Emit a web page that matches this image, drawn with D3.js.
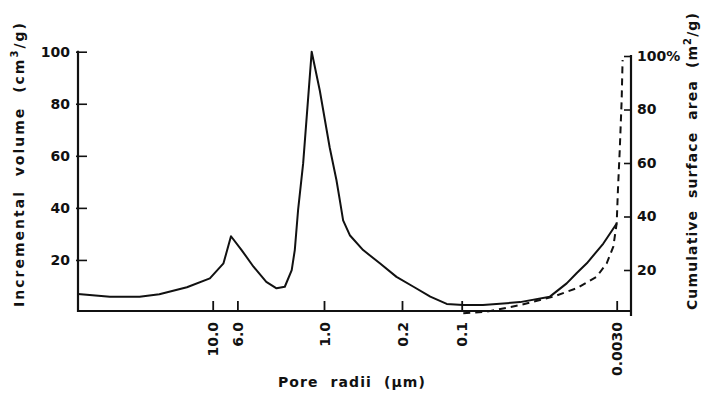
<!DOCTYPE html>
<html>
<head>
<meta charset="utf-8">
<script src="https://cdn.jsdelivr.net/npm/d3@7/dist/d3.min.js"></script>
<style>
  html, body { margin: 0; padding: 0; background: #fff; }
  svg { display: block; }
  text { font-family: "DejaVu Sans", sans-serif; font-weight: bold; fill: #111; }
</style>
</head>
<body>
<svg id="chart" width="712" height="394"></svg>
<script>
// ---- data ----
const poreRadii = [160, 83, 45, 30, 17, 10.6, 8.0, 6.85, 5.5, 4.3,
  3.3, 2.67, 2.25, 1.95, 1.83, 1.71, 1.54, 1.29, 1.09, 0.89,
  0.773, 0.721, 0.674, 0.587, 0.446, 0.316, 0.224, 0.175, 0.144, 0.119,
  0.0965, 0.0618, 0.0267, 0.0136, 0.0093, 0.0074, 0.0059, 0.00406, 0.0030];
const incrementalVolume = [6.9, 5.9, 5.9, 6.8, 9.5, 12.9, 18.7, 29.1, 23.8, 17.4,
  11.6, 9.1, 9.7, 16.1, 23.8, 39.1, 57, 100, 85, 63.3,
  50.6, 42.9, 35.2, 29.5, 23.8, 18.7, 13.5, 9.7, 5.9, 3.1,
  2.7, 2.7, 3.8, 5.9, 11, 15, 18.7, 26.3, 34];

const areaRadii = [0.0965, 0.0568, 0.0267, 0.0127, 0.0074, 0.00472, 0.00376, 0.00324, 0.0030, 0.00291, 0.00278, 0.00265, 0.00259];
const cumulativeArea = [3.8, 4.4, 6.9, 10, 13.2, 17.5, 22.5, 28.7, 37.5, 49.8, 64.9, 83.6, 98.5];

const xTickValues = [10, 6, 1, 0.2, 0.1, 0.003];
const xTickLabels = ["10.0", "6.0", "1.0", "0.2", "0.1", "0.0030"];
const leftTicks = [20, 40, 60, 80, 100];
const rightTicks = [20, 40, 60, 80, 100];
const rightTickLabels = ["20", "40", "60", "80", "100%"];

// ---- layout ----
const svg = d3.select("#chart");
const x0 = 78, x1 = 631, yBase = 311;

// piecewise log scale (the original axis is not uniformly logarithmic)
const x = d3.scaleLog()
  .domain([160, 10, 1, 0.2, 0.1, 0.003, 0.0021])
  .range([x0, 212.7, 324, 402, 461.7, 616.7, x1]);
const yL = d3.scaleLinear().domain([0, 100]).range([312, 51.7]);
const yR = d3.scaleLinear().domain([0, 100]).range([323.5, 56]);

// frame lines
svg.append("line").attr("x1", x0).attr("x2", x1).attr("y1", yBase).attr("y2", yBase)
  .attr("stroke", "#111").attr("stroke-width", 2.2);
svg.append("line").attr("x1", x0).attr("x2", x0).attr("y1", yBase + 1).attr("y2", yL(100) - 1)
  .attr("stroke", "#111").attr("stroke-width", 2.2);
svg.append("line").attr("x1", x1).attr("x2", x1).attr("y1", yBase + 5).attr("y2", yR(100) - 1)
  .attr("stroke", "#111").attr("stroke-width", 2.2);

// bottom axis
const gx = svg.append("g").attr("transform", `translate(0,${yBase})`)
  .call(d3.axisBottom(x).tickValues(xTickValues).tickFormat((d, i) => xTickLabels[i])
    .tickSizeInner(-10).tickSizeOuter(0));
gx.select(".domain").remove();
gx.selectAll(".tick line").attr("stroke", "#111").attr("stroke-width", 1.8);
gx.selectAll(".tick text")
  .attr("transform", "rotate(-90)")
  .attr("x", -11).attr("y", 0).attr("dy", "0.36em")
  .attr("text-anchor", "end")
  .style("font-size", "14px").style("font-family", "DejaVu Sans").style("font-weight", "bold");

// left axis
const gl = svg.append("g").attr("transform", `translate(${x0},0)`)
  .call(d3.axisLeft(yL).tickValues(leftTicks).tickSizeInner(-9).tickSizeOuter(0).tickPadding(8));
gl.select(".domain").remove();
gl.selectAll(".tick line").attr("stroke", "#111").attr("stroke-width", 1.6).attr("x1", -2);
gl.selectAll(".tick text").style("font-size", "14px").style("font-family", "DejaVu Sans").style("font-weight", "bold");

// right axis
const gr = svg.append("g").attr("transform", `translate(${x1},0)`)
  .call(d3.axisRight(yR).tickValues(rightTicks).tickFormat((d, i) => rightTickLabels[i])
    .tickSizeInner(-7).tickSizeOuter(0).tickPadding(6));
gr.select(".domain").remove();
gr.selectAll(".tick line").attr("stroke", "#111").attr("stroke-width", 1.6);
gr.selectAll(".tick text").style("font-size", "14px").style("font-family", "DejaVu Sans").style("font-weight", "bold");

// curves
const solid = poreRadii.map((r, i) => [r, incrementalVolume[i]]);
const dashed = areaRadii.map((r, i) => [r, cumulativeArea[i]]);

svg.append("path").datum(solid)
  .attr("fill", "none").attr("stroke", "#111").attr("stroke-width", 2)
  .attr("stroke-linejoin", "round")
  .attr("d", d3.line().x(d => x(d[0])).y(d => yL(d[1])).curve(d3.curveLinear));

svg.append("path").datum(dashed)
  .attr("fill", "none").attr("stroke", "#111").attr("stroke-width", 2)
  .attr("stroke-dasharray", "7,5")
  .attr("d", d3.line().x(d => x(d[0])).y(d => yR(d[1])).curve(d3.curveLinear));

// stretch a title to a target length via letter-spacing
function fit(sel, target) {
  const node = sel.node();
  const len = node.getComputedTextLength();
  const n = node.textContent.length;
  sel.style("letter-spacing", ((target - len) / n) + "px");
}

// axis titles
const lt = svg.append("text")
  .attr("transform", `translate(24,164) rotate(-90)`)
  .attr("text-anchor", "middle")
  .attr("xml:space", "preserve")
  .style("font-size", "14px").style("white-space", "pre");
lt.append("tspan").text("Incremental  volume  (cm");
lt.append("tspan").text("3").attr("dy", -6).style("font-size", "10px");
lt.append("tspan").text("/g)").attr("dy", 6);
fit(lt, 286);

const rt = svg.append("text")
  .attr("transform", `translate(697,161) rotate(-90)`)
  .attr("text-anchor", "middle")
  .attr("xml:space", "preserve")
  .style("font-size", "14px").style("white-space", "pre");
rt.append("tspan").text("Cumulative  surface  area  (m");
rt.append("tspan").text("2").attr("dy", -6).style("font-size", "10px");
rt.append("tspan").text("/g)").attr("dy", 6);
fit(rt, 298);

const bt = svg.append("text")
  .attr("x", 352).attr("y", 387)
  .attr("text-anchor", "middle")
  .attr("xml:space", "preserve")
  .style("font-size", "14px").style("white-space", "pre")
  .text("Pore  radii  (µm)");
fit(bt, 148);
</script>
</body>
</html>
